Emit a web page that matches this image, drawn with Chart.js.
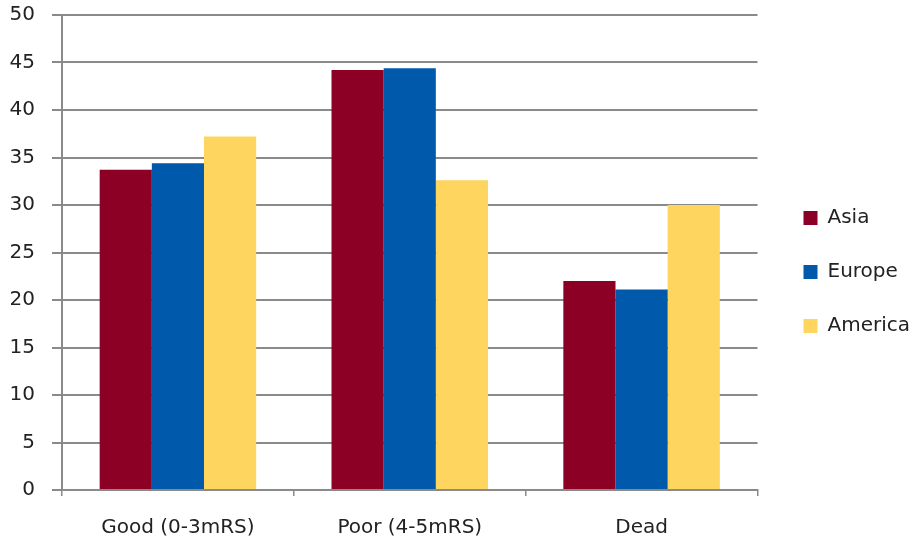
<!DOCTYPE html>
<html>
<head>
<meta charset="utf-8">
<script src="https://cdn.jsdelivr.net/npm/chart.js@4"></script>
<style>
  html, body { margin: 0; padding: 0; background: #fff; }
  #wrap { width: 920px; height: 544px; }
</style>
</head>
<body>
<div id="wrap"><canvas id="grafico"></canvas></div>
<script>
const categorias = ['Good (0-3mRS)', 'Poor (4-5mRS)', 'Dead'];
const asia = [33.7, 44.2, 22.0];
const europa = [34.4, 44.4, 21.1];
const america = [37.2, 32.6, 30.0];
const ticksY = [0, 5, 10, 15, 20, 25, 30, 35, 40, 45, 50];

const fonte = "'DejaVu Sans', sans-serif";
const cinza = '#8a8a8a';

const ctx = document.getElementById('grafico').getContext('2d');
new Chart(ctx, {
  type: 'bar',
  data: {
    labels: categorias,
    datasets: [
      { label: 'Asia', data: asia, backgroundColor: '#8d0026' },
      { label: 'Europe', data: europa, backgroundColor: '#0059ab' },
      { label: 'America', data: america, backgroundColor: '#fdd55f' }
    ]
  },
  options: {
    responsive: true,
    maintainAspectRatio: false,
    animation: false,
    layout: { padding: { top: 0, left: 10, right: 0, bottom: 0 } },
    datasets: {
      bar: { categoryPercentage: 0.675, barPercentage: 1.0 }
    },
    plugins: {
      tooltip: { enabled: false },
      legend: {
        position: 'right',
        labels: {
          boxWidth: 14,
          boxHeight: 14,
          padding: 34,
          color: '#222',
          font: { family: fonte, size: 20 }
        }
      }
    },
    scales: {
      x: {
        grid: {
          display: true,
          drawOnChartArea: false,
          drawTicks: true,
          tickLength: 6,
          color: cinza,
          lineWidth: 1.5
        },
        border: { color: cinza, width: 2 },
        ticks: { color: '#222', font: { family: fonte, size: 20 }, padding: 20 },
        afterFit: (escala) => { escala.height = 54; }
      },
      y: {
        min: 0,
        max: 50,
        afterBuildTicks: (escala) => { escala.ticks = ticksY.map(v => ({ value: v })); },
        grid: {
          color: cinza,
          lineWidth: 2,
          drawTicks: true,
          tickLength: 10
        },
        border: { color: cinza, width: 2 },
        ticks: { color: '#222', font: { family: fonte, size: 20 }, padding: 17 },
        afterFit: (escala) => {
          escala.width = 52;
          escala.paddingTop = 15;
          escala.paddingBottom = 0;
        }
      },
      // espaço vazio entre a área do gráfico e a legenda
      espaco: {
        type: 'linear',
        position: 'right',
        display: true,
        grid: { display: false, drawTicks: false },
        border: { display: false },
        ticks: { display: false },
        afterFit: (escala) => {
          escala.width = 12;
          escala.paddingTop = 0;
          escala.paddingBottom = 0;
        }
      }
    }
  }
});
</script>
</body>
</html>
